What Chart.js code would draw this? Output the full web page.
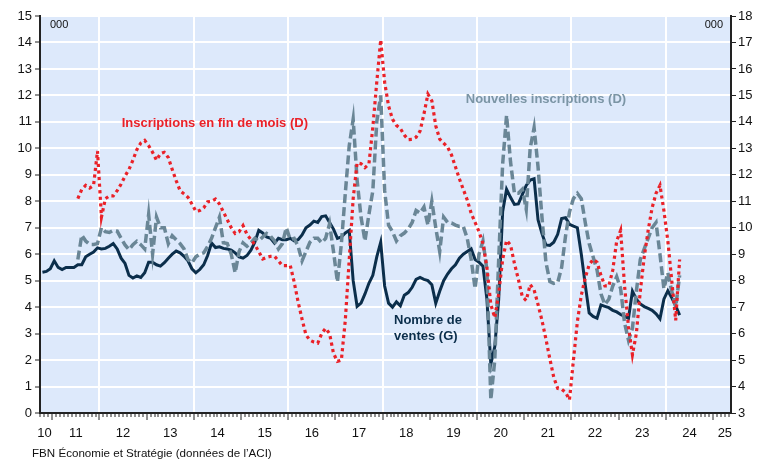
<!DOCTYPE html>
<html>
<head>
<meta charset="utf-8">
<script src="https://cdn.jsdelivr.net/npm/chart.js@4"></script>
<style>
  html, body { margin: 0; padding: 0; background: #fff; }
</style>
</head>
<body>
<canvas id="chart" width="768" height="462"></canvas>
<script>
  // monthly series, values in thousands
  const salesStart = [2010, 10];     // Nombre de ventes (G), first month
  const listingsStart = [2011, 7];   // both (D) series, first month

  const sales = [
    5.32, 5.35, 5.45, 5.75, 5.5, 5.42, 5.5, 5.5, 5.5, 5.6,
    5.6, 5.9, 6.0, 6.08, 6.24, 6.2, 6.22, 6.3, 6.4, 6.2,
    5.85, 5.65, 5.2, 5.1, 5.18, 5.12, 5.3, 5.7, 5.7, 5.6,
    5.55, 5.68, 5.85, 6.0, 6.12, 6.05, 5.92, 5.75, 5.45, 5.3,
    5.42, 5.6, 5.95, 6.42, 6.25, 6.28, 6.22, 6.2, 6.15, 6.05,
    5.9, 5.85, 5.95, 6.15, 6.45, 6.9, 6.8, 6.65, 6.6, 6.42,
    6.6, 6.55, 6.55, 6.6, 6.5, 6.55, 6.73, 7.0, 7.1, 7.25,
    7.2, 7.42, 7.45, 7.2, 6.95, 6.6, 6.65, 6.8, 6.9, 5.0,
    4.03, 4.15, 4.5, 4.9, 5.2, 5.9, 6.45, 4.8, 4.15, 4.0,
    4.2, 4.05, 4.45, 4.55, 4.75, 5.05, 5.12, 5.05, 5.0, 4.85,
    4.15, 4.6, 5.0, 5.25, 5.45, 5.6, 5.85, 6.0, 6.1, 6.2,
    5.8, 5.7, 5.55, 4.3, 1.85, 2.5, 4.3, 7.6, 8.45, 8.15,
    7.88, 7.9, 8.25, 8.6, 8.8, 8.85, 7.3, 6.78, 6.35, 6.33,
    6.45, 6.75, 7.35, 7.38, 7.13, 7.06, 7.0, 6.0, 4.85, 3.78,
    3.65, 3.58, 4.08, 4.03, 3.98, 3.88, 3.82, 3.72, 3.65, 3.58,
    4.6, 4.3, 4.12, 4.02, 3.95, 3.88, 3.75, 3.56, 4.3, 4.62,
    4.35, 4.05, 3.7
  ];

  const endOfMonthListings = [
    11.1, 11.45, 11.6, 11.5, 11.6, 12.9, 10.4, 11.1, 11.2, 11.2,
    11.4, 11.65, 11.95, 12.2, 12.55, 12.95, 13.2, 13.3, 13.1, 12.85,
    12.55, 12.8, 12.85, 12.65, 12.2, 11.78, 11.4, 11.28, 11.15, 10.9,
    10.62, 10.65, 10.75, 10.98, 11.0, 11.08, 10.9, 10.6, 10.3, 10.0,
    9.78, 9.85, 10.08, 9.75, 9.55, 9.36, 9.1, 8.82, 8.88, 8.92,
    8.92, 8.75, 8.57, 8.57, 8.58, 7.95, 7.2, 6.55, 5.95, 5.75,
    5.68, 5.64, 6.0, 6.2, 6.0, 5.25, 4.95, 5.0, 6.5, 8.8,
    11.1, 12.45, 12.42, 12.27, 12.4, 13.8, 15.5, 17.1, 15.5, 14.6,
    14.1, 13.87, 13.75, 13.5, 13.33, 13.34, 13.42, 13.65, 14.3, 15.05,
    14.8, 13.85, 13.35, 13.2, 13.05, 12.75, 12.3, 11.85, 11.45, 11.05,
    10.55, 10.2, 9.85, 9.4, 8.5, 7.1, 6.6, 7.5, 8.8, 9.52,
    9.35, 8.65, 8.05, 7.4, 7.25, 7.85, 7.65, 7.1, 6.5, 5.8,
    5.05, 4.35, 3.93, 3.9, 3.78, 3.5, 5.0, 6.45, 7.45, 8.1,
    8.6, 8.8, 8.7, 8.2, 7.8, 7.8, 8.4, 9.5, 9.9, 7.8,
    6.25, 5.2, 6.0, 7.6, 8.9, 9.9, 10.75, 11.3, 11.6, 10.65,
    9.5, 8.0, 6.5, 8.8
  ];

  const newListings = [
    8.8, 9.72, 9.5, 9.37, 9.37, 9.4, 10.0, 9.85, 9.82, 9.9,
    9.87, 9.6, 9.35, 9.17, 9.36, 9.49, 9.36, 9.2, 10.5, 9.0,
    10.4, 10.0, 10.0, 9.4, 9.7, 9.55, 9.4, 9.2, 8.8, 8.67,
    8.9, 9.0, 9.05, 9.3, 9.6, 10.0, 10.4, 9.43, 9.4, 9.0,
    8.3, 9.1, 9.43, 9.3, 9.43, 9.6, 9.5, 9.65, 9.78, 9.68,
    9.5, 9.2, 9.4, 10.0, 9.55, 9.6, 9.3, 8.75, 9.1, 9.45,
    9.6, 9.6, 9.43, 9.6, 10.15, 9.1, 7.95, 9.4, 11.3, 13.1,
    14.1, 11.8, 10.4, 9.5, 10.5, 11.4, 14.0, 15.0, 11.4, 10.1,
    9.85, 9.5, 9.7, 9.8, 9.95, 10.2, 10.65, 10.55, 10.78, 10.1,
    11.0, 10.0, 9.1, 10.4, 10.2, 10.18, 10.1, 10.05, 10.05, 9.6,
    8.8, 7.7, 9.0, 9.5, 8.4, 3.5, 5.0, 8.8, 12.4, 14.25,
    12.5, 11.3, 11.3, 11.45, 10.7, 13.0, 13.78, 12.3, 10.4, 8.7,
    7.97, 7.9, 7.93, 8.5, 9.7, 10.6, 11.1, 11.3, 11.1, 10.2,
    9.4, 8.9, 8.4, 7.5, 7.1, 7.3, 7.8, 8.15, 7.7, 6.4,
    5.75, 6.2, 7.6, 8.8, 9.2, 9.6, 10.0, 10.2, 9.0, 7.7,
    8.3, 7.6, 7.0, 8.2
  ];

  const yearLabels = ['10', '11', '12', '13', '14', '15', '16', '17',
                      '18', '19', '20', '21', '22', '23', '24', '25'];

  const FONT = "'Liberation Sans', Arial, sans-serif";
  const NAVY = '#0b2e4b';
  const RED = '#ea2128';
  const SLATE = '#6a8696';

  // mid-month position on a decimal-year axis
  function monthX(start, i) {
    return start[0] + (start[1] - 1 + i + 0.5) / 12;
  }
  function toPoints(start, values) {
    return values.map((v, i) => ({ x: monthX(start, i), y: v }));
  }

  // one tick per month, Oct 2010 .. May 2025
  const monthTicks = [];
  for (let m = 0; m <= 175; m++) monthTicks.push(2010 + (9 + m) / 12);

  function isYearStart(v) {
    return Math.abs(v - Math.round(v)) < 1e-6;
  }

  function yearLabel(v) {
    const yr = Math.floor(v + 1e-6);
    if (Math.abs(v - yr - 0.5) < 1e-3 && yr >= 2011 && yr <= 2024) return yearLabels[yr - 2010];
    if (Math.abs(v - (2010 + 10 / 12)) < 1e-3) return yearLabels[0];
    if (Math.abs(v - 2025.25) < 1e-3) return yearLabels[15];
    return '';
  }

  const plotBackground = {
    id: 'plotBackground',
    beforeDraw(chart) {
      const { ctx, chartArea: a } = chart;
      ctx.save();
      ctx.fillStyle = '#dde9fb';
      ctx.fillRect(a.left, a.top, a.right - a.left, a.bottom - a.top);
      ctx.restore();
    }
  };

  const notes = {
    id: 'notes',
    afterDatasetsDraw(chart) {
      const { ctx, chartArea: a, scales: { x, y } } = chart;
      const put = (text, px, py, color, font, align) => {
        ctx.fillStyle = color;
        ctx.font = font;
        ctx.textAlign = align || 'left';
        ctx.textBaseline = 'middle';
        ctx.fillText(text, px, py);
      };
      ctx.save();
      const bold = 'bold 13px ' + FONT;
      put('Inscriptions en fin de mois (D)', x.getPixelForValue(2012.47), y.getPixelForValue(10.95), RED, bold);
      put('Nouvelles inscriptions (D)', x.getPixelForValue(2019.76), y.getPixelForValue(11.85), '#7b95a5', bold);
      put('Nombre de', x.getPixelForValue(2018.24), y.getPixelForValue(3.5), NAVY, bold);
      put('ventes (G)', x.getPixelForValue(2018.24), y.getPixelForValue(2.9), NAVY, bold);
      put('000', a.left + 10, a.top + 9, '#111', '11px ' + FONT);
      put('000', a.right - 8, a.top + 9, '#111', '11px ' + FONT, 'right');
      put('FBN \u00c9conomie et Strat\u00e9gie (donn\u00e9es de l\u2019ACI)', 32, 454, '#111', '11.6px ' + FONT);
      ctx.restore();
    }
  };

  const ctx = document.getElementById('chart').getContext('2d');

  new Chart(ctx, {
    type: 'line',
    data: {
      datasets: [
        {
          label: 'Inscriptions en fin de mois (D)',
          data: toPoints(listingsStart, endOfMonthListings),
          yAxisID: 'y2',
          borderColor: RED,
          borderWidth: 3.2,
          borderDash: [3.2, 3.4],
          borderCapStyle: 'butt',
          pointRadius: 0,
          tension: 0,
        },
        {
          label: 'Nouvelles inscriptions (D)',
          data: toPoints(listingsStart, newListings),
          yAxisID: 'y2',
          borderColor: SLATE,
          borderWidth: 3.5,
          borderDash: [9, 4],
          pointRadius: 0,
          tension: 0,
        },
        {
          label: 'Nombre de ventes (G)',
          data: toPoints(salesStart, sales),
          yAxisID: 'y',
          borderColor: NAVY,
          borderWidth: 3,
          pointRadius: 0,
          tension: 0,
        },
      ],
    },
    options: {
      responsive: false,
      animation: false,
      layout: { padding: { top: 16, left: 0, right: 0, bottom: 0 } },
      plugins: {
        legend: { display: false },
        tooltip: { enabled: false },
        title: { display: false },
      },
      scales: {
        x: {
          type: 'linear',
          min: 2010.74,
          max: 2025.38,
          afterBuildTicks: scale => {
            scale.ticks = monthTicks.map(v => ({ value: v }));
          },
          afterFit: scale => { scale.height = 49; },
          ticks: {
            autoSkip: false,
            maxRotation: 0,
            minRotation: 0,
            padding: 6,
            color: '#111',
            font: { family: FONT, size: 13 },
            callback: v => yearLabel(v),
          },
          grid: {
            color: c => {
              const v = c.tick ? c.tick.value : 0;
              const r = Math.round(v);
              return isYearStart(v) && r % 2 === 0 && r > 2010 && r < 2025 ? '#ffffff' : 'rgba(0,0,0,0)';
            },
            lineWidth: 2,
            tickColor: '#222',
            tickWidth: 1,
            tickLength: 7,
            tickBorderDash: c => (c.tick && isYearStart(c.tick.value) ? [] : [3, 100]),
          },
          border: { color: '#222', width: 2 },
        },
        y: {
          position: 'left',
          min: 0,
          max: 15,
          afterFit: scale => { scale.width = 40; },
          ticks: {
            stepSize: 1,
            padding: 3,
            color: '#111',
            font: { family: FONT, size: 13 },
          },
          grid: {
            color: '#ffffff',
            lineWidth: 2,
            tickColor: '#222',
            tickWidth: 1,
            tickLength: 5,
          },
          border: { color: '#222', width: 2 },
        },
        y2: {
          position: 'right',
          min: 3,
          max: 18,
          afterFit: scale => { scale.width = 37; },
          ticks: {
            stepSize: 1,
            padding: 2,
            color: '#111',
            font: { family: FONT, size: 13 },
          },
          grid: {
            drawOnChartArea: false,
            tickColor: '#222',
            tickWidth: 1,
            tickLength: 5,
          },
          border: { color: '#222', width: 2 },
        },
      },
    },
    plugins: [plotBackground, notes],
  });
</script>
</body>
</html>
